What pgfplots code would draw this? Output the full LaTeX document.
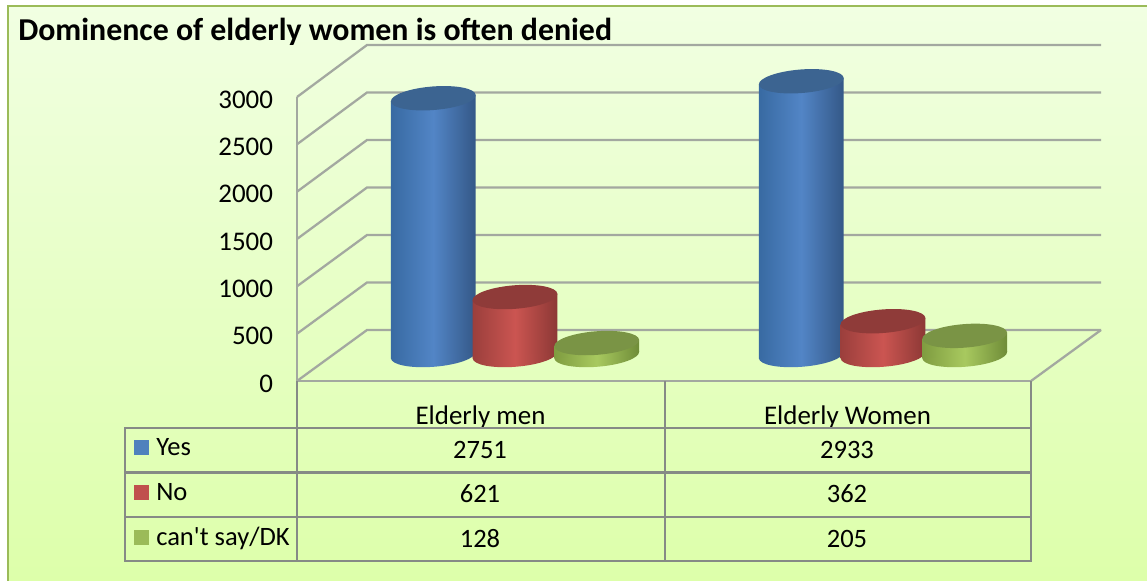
\documentclass[border=0pt]{standalone}
\usepackage{pgfplots}
\pgfplotsset{compat=1.18}
\usepackage{fontspec}
\setmainfont{Carlito}[Ligatures=TeXOff]
\definecolor{gridc}{HTML}{A3A8A0}
\definecolor{tabc}{HTML}{868A86}
\definecolor{bgtop}{RGB}{241,255,226}
\definecolor{bgbot}{RGB}{221,255,170}
\definecolor{frame}{RGB}{155,187,89}
\definecolor{kblue}{RGB}{79,129,189}
\definecolor{kred}{RGB}{192,80,77}
\definecolor{kgrn}{RGB}{155,187,89}
\definecolor{bluem}{HTML}{5285C6}\definecolor{bluel}{HTML}{386AA2}\definecolor{bluer}{HTML}{345887}\definecolor{bluec}{HTML}{3C6491}
\definecolor{redm}{HTML}{CB5551}\definecolor{redl}{HTML}{9B3F3C}\definecolor{redr}{HTML}{8C3835}\definecolor{redc}{HTML}{8F3B39}
\definecolor{grnm}{HTML}{A8C95F}\definecolor{grnl}{HTML}{7F9C40}\definecolor{grnr}{HTML}{6F8C38}\definecolor{grnc}{HTML}{7A9445}
\newcommand{\tiltell}{\pgfpathellipse{\pgfpointorigin}{\pgfqpoint{31.8pt}{2.5pt}}{\pgfqpoint{-0.7pt}{8.8pt}}}
\newcommand{\capmarks}[1]{%
 \pgfdeclareplotmark{top#1}{\pgfsetfillcolor{#1c}\tiltell\pgfusepathqfill}%
 \pgfdeclareplotmark{base#1}{\path[draw=none,left color=#1l,right color=#1r,middle color=#1m] \pgfextra{\tiltell};}%
}
\capmarks{blue}\capmarks{red}\capmarks{grn}
\newcommand{\cyl}[3]{%
 \addplot[only marks,mark=base#3] coordinates {(#1,0)};
 \pgfmathsetmacro{\xl}{#1-0.1152}\pgfmathsetmacro{\xr}{#1+0.1152}
 \pgfmathsetmacro{\yl}{#2-33}\pgfmathsetmacro{\yr}{#2+33}
 \addplot[draw=none,left color=#3l,right color=#3r,middle color=#3m]
   coordinates {(\xl,-33) (\xr,33) (\xr,\yr) (\xl,\yl)};
 \addplot[only marks,mark=top#3] coordinates {(#1,#2)};
}
\begin{document}
\begin{tikzpicture}[x=0.75pt,y=-0.75pt]
\path[use as bounding box,fill=white] (0,0) rectangle (1147,581);
\shade[top color=bgtop,bottom color=bgbot] (8,6) rectangle (1147,581);
\draw[line width=1.9pt,color=frame] (8,581) -- (8,6) -- (1147,6);
\node[anchor=base west,inner sep=0pt,font=\bfseries\fontsize{23.9}{26}\selectfont] at (18,41) {Dominence of elderly women is often denied};
% walls
\draw[gridc,line width=1.7pt] (297,97) -- (367,45) -- (1101,45);
\foreach \f/\b in {144.3/92.5,191.7/140,239/187.5,286.3/235,333.7/282.5,381/330}
  \draw[gridc,line width=1.7pt] (297,\f) -- (367,\b) -- (1101,\b);
\draw[gridc,line width=1.7pt] (1101,330) -- (1031,381);
\begin{axis}[at={(222.75pt,-285.75pt)},anchor=south west,scale only axis,width=550.5pt,height=213pt,
  xmin=-0.5,xmax=1.5,ymin=0,ymax=3000,
  axis x line=bottom,axis y line=left,
  axis line style={gridc,line width=1.7pt,-},
  xtick={0,1},xticklabels={Elderly men,Elderly Women},
  ytick={0,500,1000,1500,2000,2500,3000},
  major tick length=0pt,
  /pgf/number format/assume math mode=true,
  /pgf/number format/.cd,set thousands separator={},/pgfplots/.cd,
  tick label style={font=\fontsize{20.2}{22}\selectfont},
  y tick label style={xshift=-14.5pt,yshift=-2pt,anchor=east},
  x tick label style={anchor=base,yshift=-32.4pt}]
\end{axis}
% data table
\draw[tabc,line width=2.2pt] (125,428) rectangle (1031,561);
\draw[tabc,line width=2pt] (125,472.5) -- (1031,472.5) (125,517) -- (1031,517);
\draw[tabc,line width=2.2pt] (297,381) -- (297,561) (665,381) -- (665,561) (1031,381) -- (1031,561);
\fill[kblue] (134,440) rectangle (149,455);
\fill[kred] (134,485) rectangle (149,500);
\fill[kgrn] (134,530) rectangle (149,545);
\tikzset{tt/.style={inner sep=0pt,font=\fontsize{19.9}{22}\selectfont}}
\node[tt,anchor=base west] at (156,455) {Yes};
\node[tt,anchor=base west] at (156,500) {No};
\node[tt,anchor=base west] at (156,545) {can't say/DK};
\node[tt,anchor=base] at (480,458) {2751};
\node[tt,anchor=base] at (847,458) {2933};
\node[tt,anchor=base] at (480,502) {621};
\node[tt,anchor=base] at (847,502) {362};
\node[tt,anchor=base] at (480,547) {128};
\node[tt,anchor=base] at (847,547) {205};
% cylinders
\begin{axis}[at={(248.25pt,-266.25pt)},anchor=south west,scale only axis,width=552pt,height=210pt,
  xmin=-0.5,xmax=1.5,ymin=0,ymax=3000,hide axis,clip=false,clip mode=individual]
\cyl{-0.222}{2751}{blue}
\cyl{0}{621}{red}
\cyl{0.222}{128}{grn}
\cyl{0.778}{2933}{blue}
\cyl{1}{362}{red}
\cyl{1.222}{205}{grn}
\end{axis}
\end{tikzpicture}
\end{document}
